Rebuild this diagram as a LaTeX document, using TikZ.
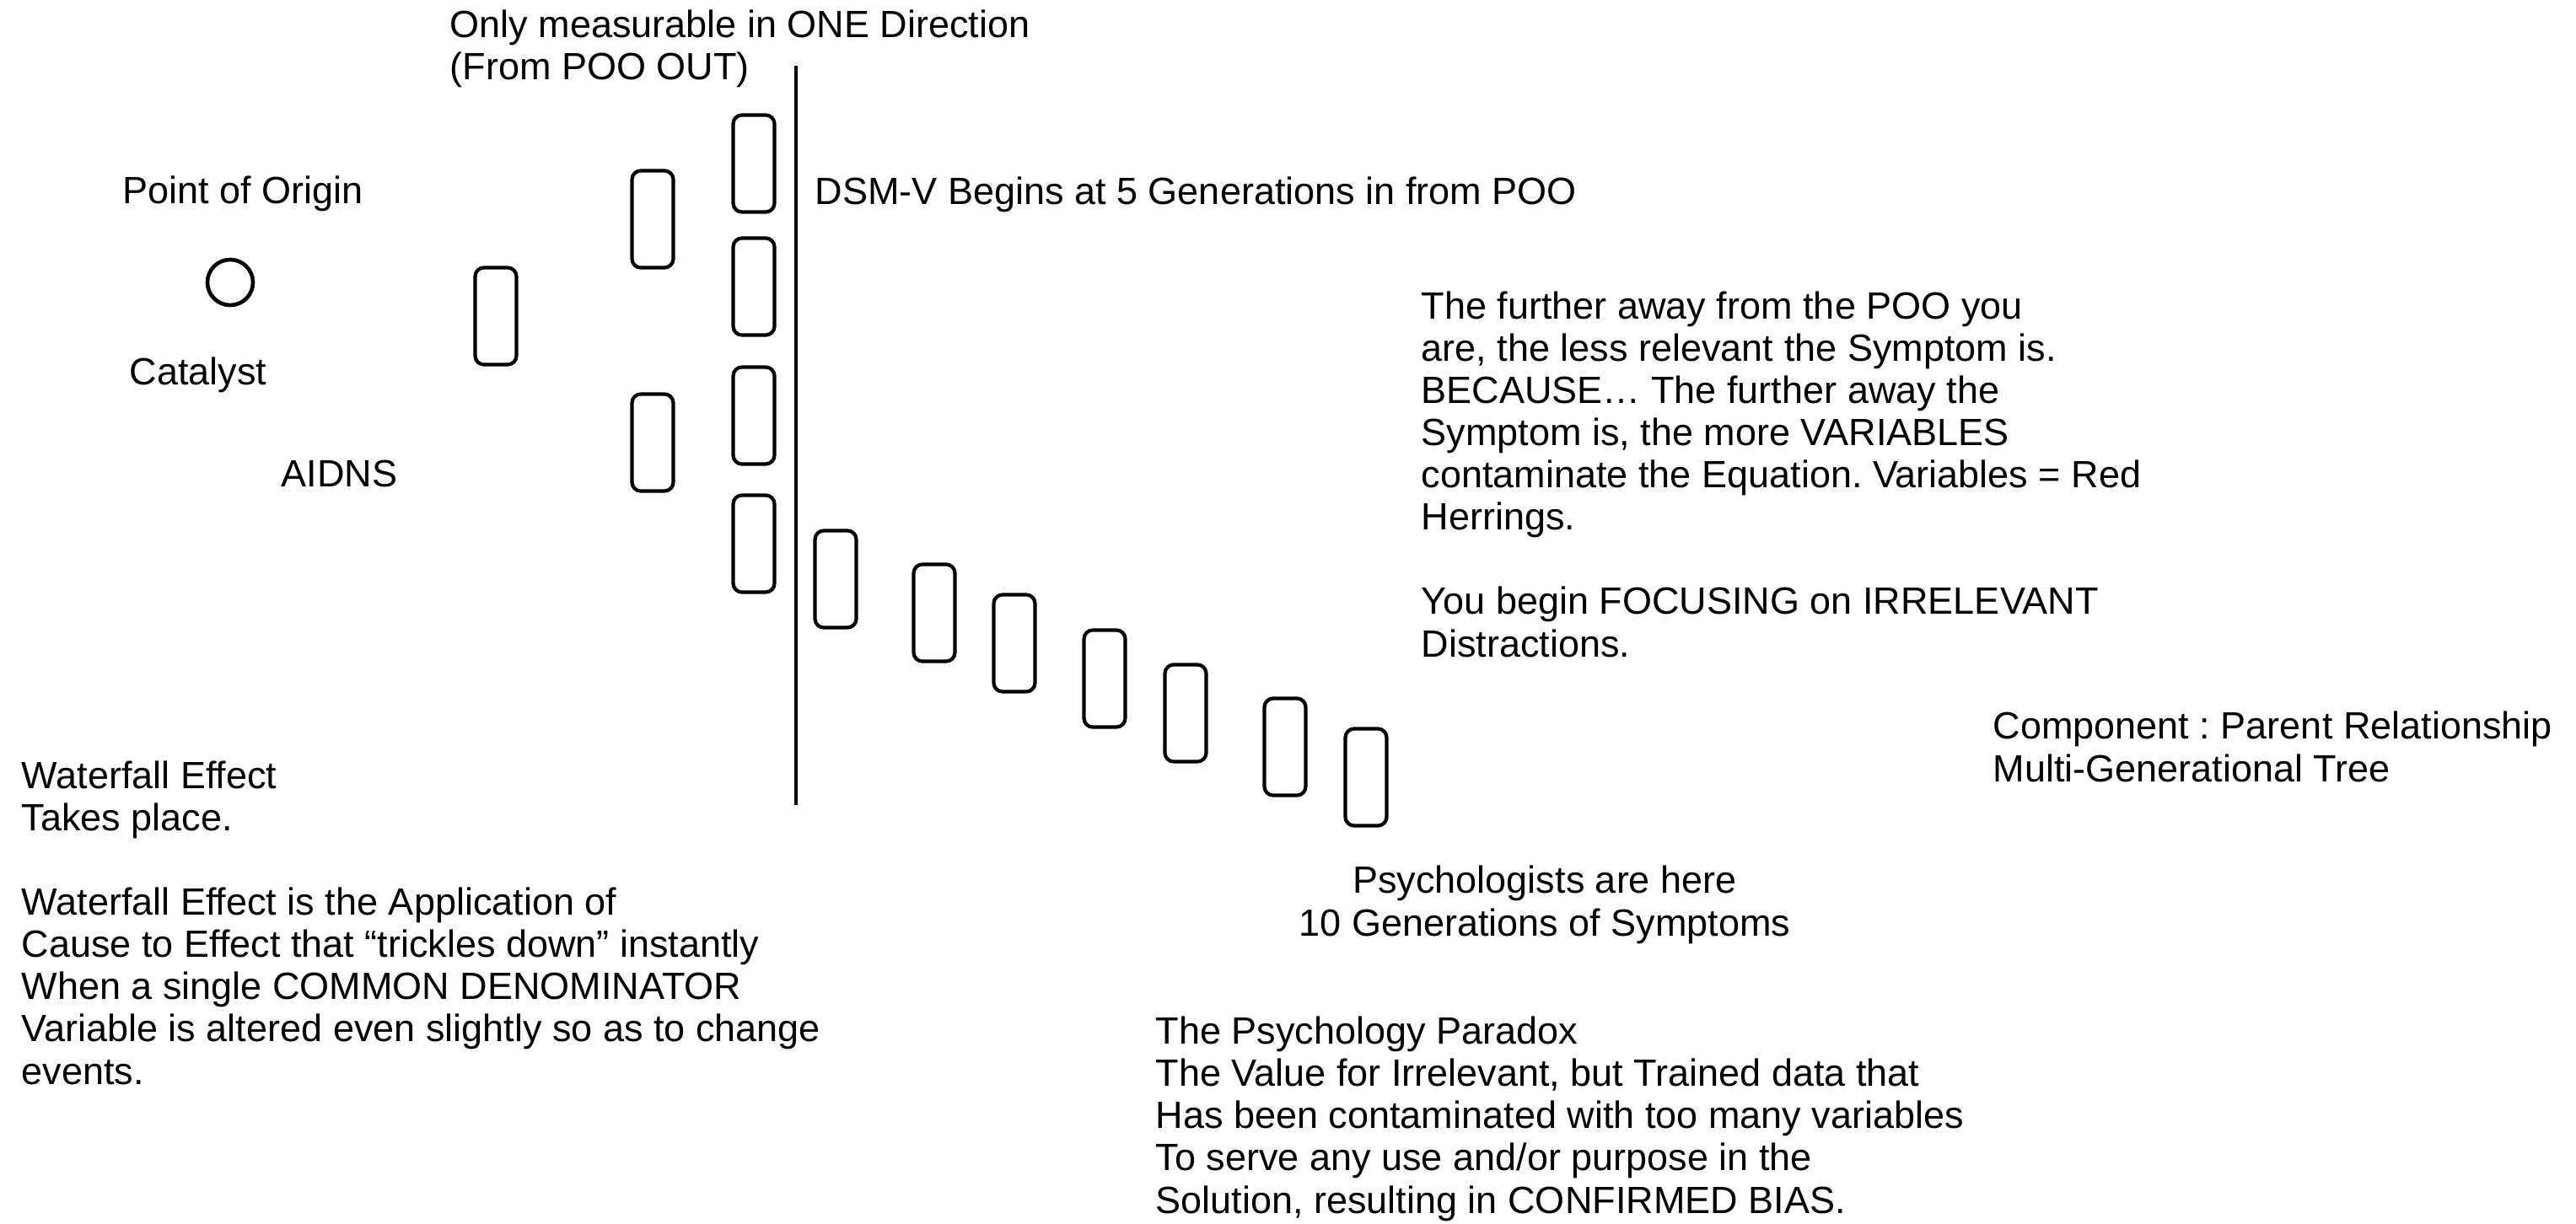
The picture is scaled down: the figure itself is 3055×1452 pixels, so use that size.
\documentclass[tikz,border=0pt]{standalone}
\usepackage{fontspec}
\setmainfont{Liberation Sans}
\usetikzlibrary{positioning}
\frenchspacing
\tikzset{gen/.style={draw,rounded corners=3pt,line width=1.2pt,
                     minimum width=0.49cm,minimum height=1.15cm,inner sep=0pt}}
\tikzset{note/.style={align=left,anchor=base west,inner sep=0pt,
                      font=\fontsize{12.8}{14.23}\selectfont}}

\begin{document}
\begin{tikzpicture}[x=0.01cm,y=-0.01cm]
  \useasboundingbox (0,0) rectangle (3055,1452);

  % Point of origin
  \node (poo) [draw,circle,minimum size=0.54cm,line width=1.3pt,inner sep=0pt] at (273,335) {};

  % Generations, from the POO out
  \foreach \n/\x/\y in {1/588/375, 2/774/260, 3/774/525,
                        4/894/194, 5/894/340, 6/894/493, 7/894/645,
                        8/991/687, 9/1108/727, 10/1203/763, 11/1310/805,
                        12/1406/846, 13/1524/886, 14/1620/922}
    \node (g\n) [gen] at (\x,\y) {};

  % DSM-V border
  \coordinate (dsmTop) at (944,78);
  \coordinate (dsmBot) at (944,955);
  \draw[line width=0.9pt] (dsmTop) -- (dsmBot);

  % Labels (multi-line ones sit on the base of their last line)
  \node (oneDir) [note] at (533,95) {Only measurable in ONE Direction\\(From POO OUT)};
  \node (origin) [note] at (145,242) {Point of Origin};
  \node (catalyst) [note] at (153,456) {Catalyst};
  \node (aidns) [note] at (333,577) {AIDNS};
  \node (dsm) [note] at (966,243) {DSM-V Begins at 5 Generations in from POO};
  \node (further) [note] at (1685,779) {The further away from the POO you\\
    are, the less relevant the Symptom is.\\
    BECAUSE… The further away the\\
    Symptom is, the more VARIABLES\\
    contaminate the Equation. Variables = Red\\
    Herrings.\\[14.23pt]
    You begin FOCUSING on IRRELEVANT\\
    Distractions.};
  \node (component) [note] at (2363,927) {Component : Parent Relationship\\Multi-Generational Tree};
  \node (waterfall) [note] at (25,1286) {Waterfall Effect\\
    Takes place.\\[14.23pt]
    Waterfall Effect is the Application of\\
    Cause to Effect that “trickles down” instantly\\
    When a single COMMON DENOMINATOR\\
    Variable is altered even slightly so as to change\\
    events.};
  \node (psych) [note,align=center,anchor=base] at (1832,1110) {Psychologists are here\\10 Generations of Symptoms};
  \node (paradox) [note] at (1370,1439) {The Psychology Paradox\\
    The Value for Irrelevant, but Trained data that\\
    Has been contaminated with too many variables\\
    To serve any use and/or purpose in the\\
    Solution, resulting in CONFIRMED BIAS.};
\end{tikzpicture}
\end{document}
